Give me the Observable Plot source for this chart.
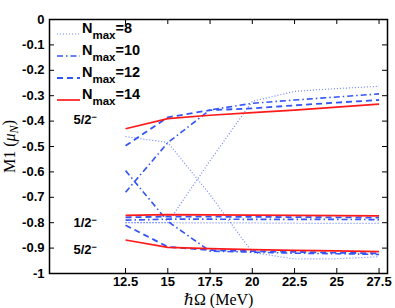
<!DOCTYPE html>
<html><head><meta charset="utf-8">
<script src="https://cdn.jsdelivr.net/npm/d3@7"></script>
<script src="https://cdn.jsdelivr.net/npm/@observablehq/plot@0.6"></script>
<style>
html,body{margin:0;padding:0;background:#fff;}
#chart{position:relative;width:395px;height:308px;}
</style></head><body>
<div id="chart"></div>
<script>
// ---- data ----
const hbarOmega = [12.5, 15, 17.5, 20, 22.5, 25, 27.5];

const nmax8A  = [-0.461, -0.484, -0.690, -0.917, -0.943, -0.942, -0.934];
const nmax8B  = [-0.800, -0.800, -0.556, -0.322, -0.283, -0.272, -0.263];
const nmax8C  = [-0.800, -0.800, -0.801, -0.801, -0.802, -0.803, -0.803];

const nmax10Upper = [-0.680, -0.485, -0.356, -0.330, -0.317, -0.305, -0.293];
const nmax10Mid   = [-0.790, -0.786, -0.786, -0.787, -0.787, -0.787, -0.788];
const nmax10Low   = [-0.595, -0.795, -0.912, -0.916, -0.920, -0.922, -0.925];

const nmax12Upper = [-0.497, -0.385, -0.357, -0.350, -0.338, -0.327, -0.317];
const nmax12Mid   = [-0.779, -0.776, -0.776, -0.777, -0.778, -0.779, -0.780];
const nmax12Low   = [-0.810, -0.895, -0.908, -0.912, -0.915, -0.918, -0.921];

const nmax14Upper = [-0.430, -0.390, -0.377, -0.367, -0.357, -0.345, -0.333];
const nmax14Mid   = [-0.771, -0.768, -0.769, -0.770, -0.771, -0.772, -0.773];
const nmax14Low   = [-0.868, -0.897, -0.902, -0.906, -0.909, -0.911, -0.914];

const nmaxValues = ["8", "10", "12", "14"];
const xTicks = [12.5, 15, 17.5, 20, 22.5, 25, 27.5];
const yTicks = [0, -0.1, -0.2, -0.3, -0.4, -0.5, -0.6, -0.7, -0.8, -0.9, -1];
const stateLabels = ["5/2", "1/2", "5/2"];
const xTitle = "ℏΩ (MeV)";

const series = [
  {nmax: "8",  tracks: [nmax8A, nmax8B, nmax8C]},
  {nmax: "10", tracks: [nmax10Upper, nmax10Mid, nmax10Low]},
  {nmax: "12", tracks: [nmax12Upper, nmax12Mid, nmax12Low]},
  {nmax: "14", tracks: [nmax14Upper, nmax14Mid, nmax14Low]}
];

// ---- styles ----
const styles = {
  "8":  {stroke: "#7084ff", width: 1.2, dash: "1,2"},
  "10": {stroke: "#3355f5", width: 1.6, dash: "6,3,1.5,3"},
  "12": {stroke: "#3355f5", width: 1.8, dash: "6,4"},
  "14": {stroke: "#ff1a1a", width: 1.7, dash: null}
};

const W = 395, H = 308, ML = 49, MR = 8, MT = 19, MB = 35;
const xDomain = [8, 28], yDomain = [-1, 0];
const tkX = 5 * (xDomain[1] - xDomain[0]) / (W - ML - MR);
const tkY = 5 * (yDomain[1] - yDomain[0]) / (H - MT - MB);

const rows = [];
series.forEach(s => s.tracks.forEach((tr, t) => tr.forEach((v, i) =>
  rows.push({nmax: s.nmax, track: s.nmax + "-" + t, x: hbarOmega[i], y: v}))));

const lineMarks = nmaxValues.map(n => {
  const st = styles[n];
  return Plot.line(rows.filter(r => r.nmax === n), {
    x: "x", y: "y", z: "track", stroke: st.stroke, strokeWidth: st.width,
    strokeDasharray: st.dash, strokeLinecap: "butt", strokeLinejoin: "round"
  });
});

const stateAnno = [
  {label: stateLabels[0], x: 9.42, y: -0.394},
  {label: stateLabels[1], x: 9.42, y: -0.801},
  {label: stateLabels[2], x: 9.42, y: -0.907}
];

const plot = Plot.plot({
  width: W, height: H,
  marginLeft: ML, marginRight: MR, marginTop: MT, marginBottom: MB,
  style: {fontFamily: "'Liberation Sans', Arial, sans-serif", fontSize: "13px", fontWeight: "bold", background: "white", overflow: "visible"},
  x: {domain: xDomain},
  y: {domain: yDomain},
  marks: [
    ...lineMarks,
    Plot.ruleX(xTicks, {x: d => d, y1: yDomain[0], y2: yDomain[0] + tkY, stroke: "black", strokeWidth: 1}),
    Plot.ruleX(xTicks, {x: d => d, y1: yDomain[1], y2: yDomain[1] - tkY, stroke: "black", strokeWidth: 1}),
    Plot.ruleY(yTicks, {y: d => d, x1: xDomain[0], x2: xDomain[0] + tkX, stroke: "black", strokeWidth: 1}),
    Plot.ruleY(yTicks, {y: d => d, x1: xDomain[1], x2: xDomain[1] - tkX, stroke: "black", strokeWidth: 1}),
    Plot.frame({stroke: "black", strokeWidth: 1.5}),
    Plot.axisX({ticks: xTicks, tickSize: 0, tickPadding: 3, tickFormat: d => String(d),
      label: xTitle, labelAnchor: "center", labelOffset: 31, fontSize: 13, fontWeight: "bold"}),
    Plot.axisY({ticks: yTicks, tickSize: 0, tickPadding: 5, tickFormat: d => String(d),
      label: "M1 (μN)", labelAnchor: "center", labelOffset: 46, fontSize: 13, fontWeight: "bold"}),
    Plot.text(stateAnno, {x: "x", y: "y", text: "label", textAnchor: "start", fontSize: 13, fontWeight: "bold", fill: "black", className: "state-label"})
  ]
});

document.getElementById("chart").appendChild(plot);
const svg = d3.select(plot);

// superscript minus on state labels
svg.selectAll(".state-label text").each(function() {
  d3.select(this).append("tspan").attr("dy", "-0.45em").attr("font-size", "9px").text("−");
});

// axis titles: serif, normal weight, with subscript/italic
svg.selectAll("[aria-label='x-axis label'] text")
  .attr("font-family", "'Liberation Serif', 'DejaVu Serif', serif")
  .attr("font-weight", "normal").attr("font-size", "16px")
  .text(xTitle);
svg.selectAll("[aria-label='y-axis label'] text").each(function() {
  const t = d3.select(this);
  t.attr("font-family", "'Liberation Serif', 'DejaVu Serif', serif")
   .attr("font-weight", "normal").attr("font-size", "16px");
  t.text(null);
  t.append("tspan").text("M1 (");
  t.append("tspan").attr("font-style", "italic").text("μ");
  t.append("tspan").attr("font-style", "italic").attr("font-size", "12px").attr("dy", "0.3em").text("N");
  t.append("tspan").attr("dy", "-0.3em").text(")");
});

// legend (inside the plot frame, top-left)
const leg = d3.select("#chart").append("svg")
  .attr("width", W).attr("height", 130)
  .style("position", "absolute").style("left", "0px").style("top", "0px")
  .style("pointer-events", "none");
nmaxValues.forEach((n, i) => {
  const st = styles[n];
  const yy = 34 + i * 22;
  leg.append("line").attr("x1", 57).attr("x2", 80).attr("y1", yy).attr("y2", yy)
    .attr("stroke", st.stroke).attr("stroke-width", st.width)
    .attr("stroke-dasharray", st.dash);
  const t = leg.append("text").attr("x", 82).attr("y", yy - 0.7)
    .attr("font-family", "'Liberation Sans', Arial, sans-serif")
    .attr("font-weight", "bold").attr("font-size", "14.5px").attr("fill", "black");
  t.append("tspan").text("N");
  t.append("tspan").attr("font-size", "11.5px").attr("dy", 6).text("max");
  t.append("tspan").attr("dy", -6).text("=" + n);
});
</script>
</body></html>
